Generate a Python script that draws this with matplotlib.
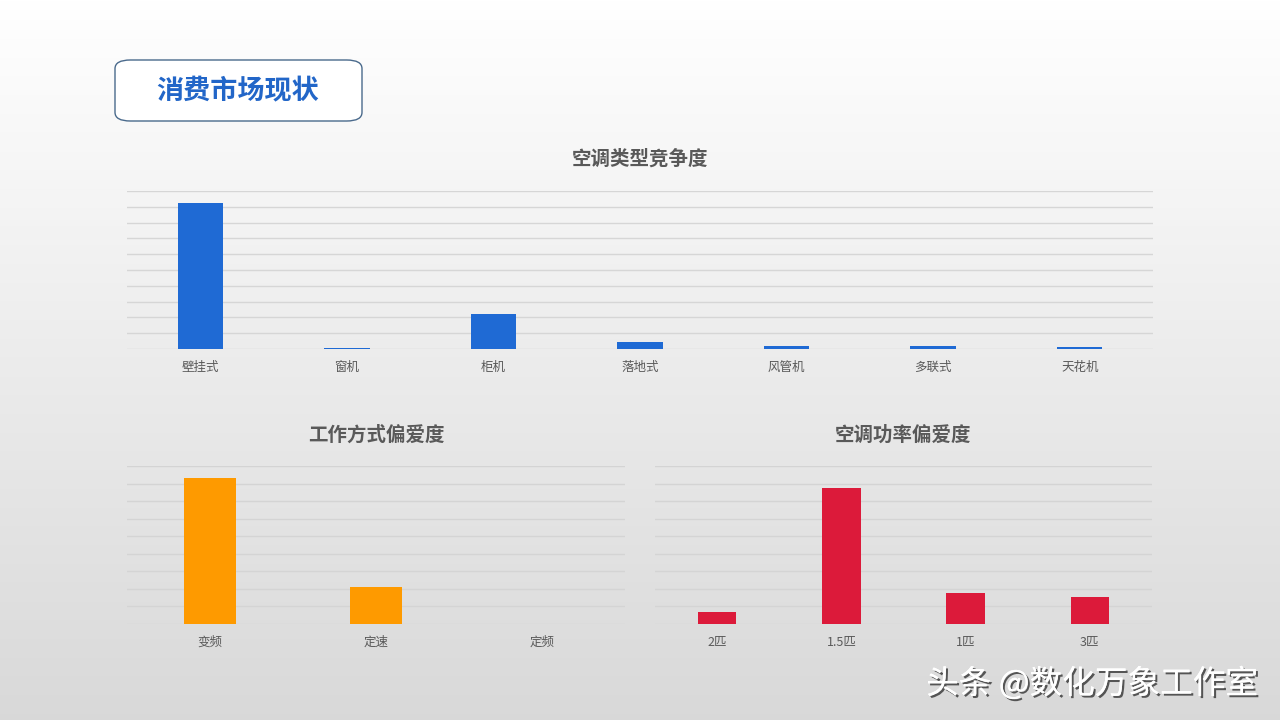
import numpy as np
import matplotlib.pyplot as plt
from matplotlib.patches import FancyBboxPatch
import matplotlib.patheffects as pe

plt.rcParams['font.family'] = ['Noto Sans CJK SC', 'DejaVu Sans']

# data (0-100 scale)
type_labels = ['壁挂式', '窗机', '柜机', '落地式', '风管机', '多联式', '天花机']
type_values = [92.4, 0.6, 22.0, 4.4, 2.1, 2.1, 1.3]

mode_labels = ['变频', '定速', '定频']
mode_values = [83.0, 21.0, 0.0]

power_labels = ['2匹', '1.5匹', '1匹', '3匹']
power_values = [6.8, 77.4, 17.7, 15.4]

W, H = 1280, 720
fig = plt.figure(figsize=(W / 100, H / 100), dpi=100)

# background gradient
bg = fig.add_axes([0, 0, 1, 1], zorder=-10)
grad = np.linspace(1.0, 0.85, 256).reshape(-1, 1)
bg.imshow(np.dstack([grad, grad, grad]), aspect='auto', extent=[0, 1, 0, 1])
bg.set_xlim(0, 1)
bg.set_ylim(0, 1)
bg.axis('off')

def px_axes(x0, y0, x1, y1):
    # pixel box (top-left origin) -> figure axes
    return fig.add_axes([x0 / W, 1 - y1 / H, (x1 - x0) / W, (y1 - y0) / H])

def bar_chart(ax, labels, values, color, ymax, grid_color):
    x = np.arange(len(labels))
    ax.bar(x, values, width=0.31, color=color, zorder=3)
    ax.set_xlim(-0.5, len(labels) - 0.5)
    ax.set_ylim(0, ymax)
    ax.set_yticks(np.arange(0, ymax + 1, 10))
    ax.yaxis.grid(True, color=grid_color, linewidth=1)
    ax.set_axisbelow(True)
    ax.tick_params(axis='y', left=False, labelleft=False)
    ax.tick_params(axis='x', bottom=False, labelsize=9, colors='#595959', pad=5)
    ax.set_xticks(x)
    ax.set_xticklabels(labels)
    for s in ax.spines.values():
        s.set_visible(False)
    ax.patch.set_alpha(0)

ax1 = px_axes(127, 191, 1153, 349)
bar_chart(ax1, type_labels, type_values, '#1f6ad4', 100, '#d6d6d6')

ax2 = px_axes(127, 466, 625, 624)
bar_chart(ax2, mode_labels, mode_values, '#fe9a00', 90, '#d4d4d4')

ax3 = px_axes(655, 466, 1152, 624)
bar_chart(ax3, power_labels, power_values, '#dc1a3a', 90, '#d4d4d4')

# chart titles
title_kw = dict(ha='center', va='center', fontsize=14, fontweight='bold', color='#595959')
fig.text(640 / W, 1 - 159 / H, '空调类型竞争度', **title_kw)
fig.text(376 / W, 1 - 435 / H, '工作方式偏爱度', **title_kw)
fig.text(903 / W, 1 - 435 / H, '空调功率偏爱度', **title_kw)

# header box
box = FancyBboxPatch((115 / W, 1 - 121 / H), 247 / W, 61 / H,
                     boxstyle='round,pad=0,rounding_size=0.012',
                     transform=fig.transFigure, facecolor='white',
                     edgecolor='#4a6a8c', linewidth=1.0, zorder=5)
fig.patches.append(box)
fig.text(238 / W, 1 - 91 / H, '消费市场现状', ha='center', va='center',
         fontsize=19.5, fontweight='bold', color='#2266c8', zorder=6)

# watermark
fig.text(1258 / W, 1 - 684 / H, '头条 @数化万象工作室', ha='right', va='center',
         fontsize=23.5, color='white',
         path_effects=[pe.withSimplePatchShadow(offset=(1.5, -1.5), shadow_rgbFace='#333333', alpha=0.8),
                       pe.Normal()])

fig.savefig('out.png', dpi=100)
